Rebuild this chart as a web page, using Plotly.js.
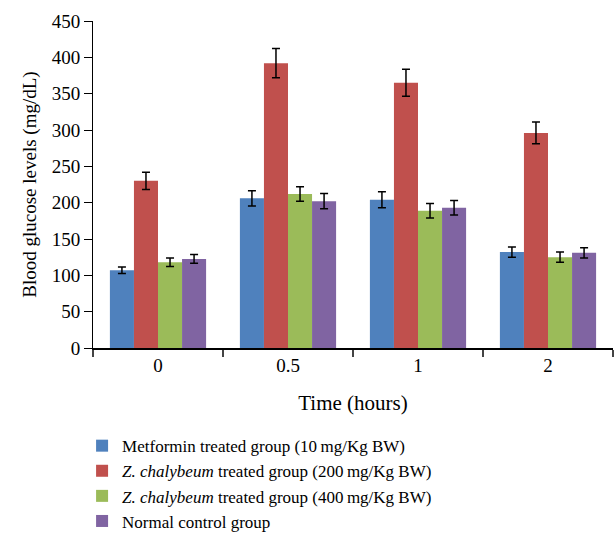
<!DOCTYPE html>
<html>
<head>
<meta charset="utf-8">
<script src="https://cdn.plot.ly/plotly-3.0.1.min.js"></script>
<style>html,body{margin:0;padding:0;background:#fff;}#chart{width:614px;height:537px;}</style>
</head>
<body>
<div id="chart"></div>
<script>
const categories = ["0", "0.5", "1", "2"];
const seriesNames = [
  "Metformin treated group (10\u2009mg/Kg BW)",
  "<i>Z. chalybeum</i> treated group (200\u2009mg/Kg BW)",
  "<i>Z. chalybeum</i> treated group (400\u2009mg/Kg BW)",
  "Normal control group"
];
const metformin = [107, 206, 204, 132];
const metforminErr = [4.5, 10.5, 11, 7];
const zc200 = [230, 392, 365, 296];
const zc200Err = [12, 20, 18.5, 15];
const zc400 = [118, 212, 189, 125];
const zc400Err = [6, 10, 10, 7];
const normal = [122.5, 202, 193, 131];
const normalErr = [6, 10.5, 10, 7];
const colors = ["#4F81BD", "#C0504D", "#9BBB59", "#8064A2"];

const values = [metformin, zc200, zc400, normal];
const errs = [metforminErr, zc200Err, zc400Err, normalErr];

const font = "Liberation Serif, Times New Roman, serif";
const traces = values.map((v, i) => ({
  type: "bar",
  x: categories,
  y: v,
  name: seriesNames[i],
  marker: {color: colors[i]},
  error_y: {type: "data", array: errs[i], visible: true, color: "#000", thickness: 1.5, width: 4}
}));

const layout = {
  width: 614, height: 537,
  margin: {l: 93, r: 1, t: 21, b: 189, autoexpand: false},
  paper_bgcolor: "#fff", plot_bgcolor: "#fff",
  barmode: "group",
  bargap: 0.26,
  bargroupgap: 0,
  font: {family: font, size: 19, color: "#000"},
  showlegend: true,
  legend: {
    x: -0.021, xanchor: "left", y: -0.245, yanchor: "top",
    orientation: "v", font: {family: font, size: 17, color: "#000"},
    itemwidth: 30, tracegroupgap: 0, bgcolor: "rgba(0,0,0,0)"
  },
  xaxis: {
    type: "category",
    automargin: false,
    tickson: "boundaries",
    ticks: "outside", ticklen: 7, tickwidth: 1.5, tickcolor: "#444",
    showline: true, linecolor: "#000", linewidth: 1.5,
    showgrid: false, zeroline: false,
    tickfont: {family: font, size: 19, color: "#000"},
    title: {text: "Time (hours)", font: {family: font, size: 21, color: "#000"}, standoff: 20}
  },
  yaxis: {
    automargin: false,
    range: [0, 450], dtick: 50,
    ticks: "outside", ticklen: 8, tickwidth: 1, tickcolor: "#000",
    showline: true, linecolor: "#000", linewidth: 1,
    showgrid: false, zeroline: false,
    tickfont: {family: font, size: 19, color: "#000"},
    title: {text: "Blood glucose levels (mg/dL)", font: {family: font, size: 19, color: "#000"}, standoff: 10}
  }
};

Plotly.newPlot("chart", traces, layout, {displayModeBar: false, staticPlot: true});
</script>
</body>
</html>
